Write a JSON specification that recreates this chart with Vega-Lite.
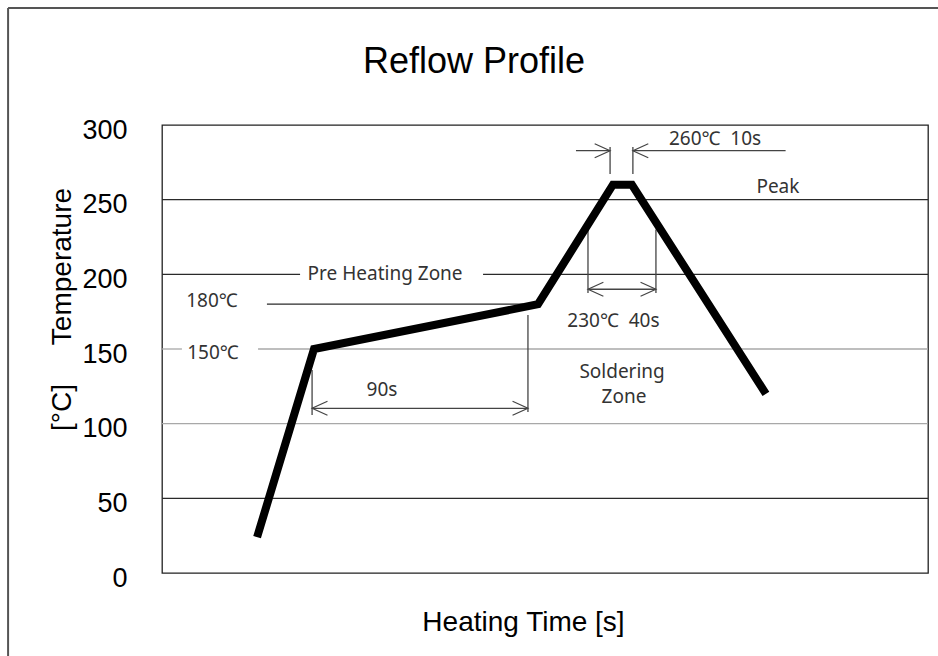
{
  "$schema": "https://vega.github.io/schema/vega-lite/v6.json",
  "width": 766,
  "height": 448,
  "autosize": "none",
  "padding": {"left": 162, "top": 125, "right": 10, "bottom": 83},
  "background": "white",
  "title": {
    "text": "Reflow Profile",
    "anchor": "middle",
    "frame": "group",
    "dx": -71,
    "offset": -102,
    "baseline": "alphabetic",
    "font": "Liberation Sans",
    "fontSize": 36,
    "fontWeight": "normal",
    "color": "black"
  },
  "config": {
    "view": {"stroke": "#222", "strokeWidth": 1.3},
    "font": "Liberation Sans"
  },
  "datasets": {
    "profile": [
      {"t": 39.6, "T": 24},
      {"t": 63.3, "T": 150},
      {"t": 156.6, "T": 180},
      {"t": 187.8, "T": 260},
      {"t": 195.7, "T": 260},
      {"t": 251.5, "T": 120}
    ],
    "segments": [
      {"t": 0, "t2": 319, "v": 250, "v2": 250, "k": "dark"},
      {"t": 0, "t2": 57.5, "v": 200, "v2": 200, "k": "dark"},
      {"t": 133.7, "t2": 319, "v": 200, "v2": 200, "k": "dark"},
      {"t": 0, "t2": 8.3, "v": 150, "v2": 150, "k": "gray"},
      {"t": 40, "t2": 319, "v": 150, "v2": 150, "k": "gray"},
      {"t": 0, "t2": 319, "v": 100, "v2": 100, "k": "gray"},
      {"t": 0, "t2": 319, "v": 50, "v2": 50, "k": "dark"},
      {"t": 43.7, "t2": 150.4, "v": 180, "v2": 180, "k": "dark"},
      {"t": 62.5, "t2": 62.5, "v": 136, "v2": 105.8, "k": "dim"},
      {"t": 152.4, "t2": 152.4, "v": 172.8, "v2": 107.8, "k": "dim"},
      {"t": 62.5, "t2": 152.4, "v": 110.3, "v2": 110.3, "k": "dim"},
      {"t": 186.6, "t2": 186.6, "v": 285.3, "v2": 267.2, "k": "dim"},
      {"t": 196.1, "t2": 196.1, "v": 285.3, "v2": 267.2, "k": "dim"},
      {"t": 172.4, "t2": 186.6, "v": 282.8, "v2": 282.8, "k": "dim"},
      {"t": 196.1, "t2": 259.7, "v": 282.8, "v2": 282.8, "k": "dim"},
      {"t": 177.4, "t2": 177.4, "v": 230, "v2": 187.5, "k": "dim"},
      {"t": 205.7, "t2": 205.7, "v": 230, "v2": 187.5, "k": "dim"},
      {"t": 177.4, "t2": 205.7, "v": 190, "v2": 190, "k": "dim"}
    ],
    "arrows": [
      {"t": 62.5, "v": 110.3, "dir": "left"},
      {"t": 152.4, "v": 110.3, "dir": "right"},
      {"t": 186.6, "v": 282.8, "dir": "right"},
      {"t": 196.1, "v": 282.8, "dir": "left"},
      {"t": 177.4, "v": 190, "dir": "left"},
      {"t": 205.7, "v": 190, "dir": "right"}
    ],
    "notes": [
      {"t": 92.9, "v": 200, "label": "Pre Heating Zone"},
      {"t": 20.8, "v": 182, "label": "180℃"},
      {"t": 21.2, "v": 147, "label": "150℃"},
      {"t": 91.6, "v": 122.5, "label": "90s"},
      {"t": 230.3, "v": 290.6, "label": "260℃\u00a0\u00a010s"},
      {"t": 188, "v": 168.7, "label": "230℃\u00a0\u00a040s"},
      {"t": 191.6, "v": 134.3, "label": "Soldering"},
      {"t": 192.4, "v": 117.9, "label": "Zone"},
      {"t": 256.5, "v": 258.5, "label": "Peak"}
    ]
  },
  "layer": [
    {
      "data": {"name": "segments"},
      "mark": {"type": "rule", "strokeWidth": 1.3},
      "encoding": {
        "x": {
          "field": "t", "type": "quantitative",
          "scale": {"domain": [0, 319], "nice": false, "zero": false},
          "axis": {
            "title": "Heating Time [s]",
            "labels": false, "ticks": false, "domain": false, "grid": false,
            "titleFont": "Liberation Sans", "titleFontSize": 28, "titleFontWeight": "normal",
            "titleColor": "black", "titleX": 361, "titleY": 57, "titleBaseline": "alphabetic",
            "titleAnchor": "middle", "titleAlign": "center"
          }
        },
        "x2": {"field": "t2"},
        "y": {
          "field": "v", "type": "quantitative",
          "scale": {"domain": [0, 300], "nice": false},
          "axis": {
            "title": "[°C]\u00a0\u00a0\u00a0\u00a0\u00a0Temperature",
            "values": [0, 50, 100, 150, 200, 250, 300],
            "grid": false, "ticks": false, "domain": false,
            "labelFont": "Liberation Sans", "labelFontSize": 27, "labelColor": "black",
            "labelPadding": 35, "labelOffset": 5,
            "titleFont": "Liberation Sans", "titleFontSize": 28, "titleFontWeight": "normal",
            "titleColor": "black", "titleX": -100, "titleY": 184, "titleBaseline": "middle",
            "titleAlign": "center", "titleAngle": -90
          }
        },
        "y2": {"field": "v2"},
        "color": {
          "field": "k", "type": "nominal",
          "scale": {"domain": ["dark", "gray", "dim"], "range": ["#2a2a2a", "#a8a8a8", "#444444"]},
          "legend": null
        }
      }
    },
    {
      "data": {"name": "profile"},
      "mark": {"type": "line", "color": "black", "strokeWidth": 8, "strokeJoin": "miter", "strokeCap": "butt"},
      "encoding": {
        "x": {"field": "t", "type": "quantitative"},
        "y": {"field": "T", "type": "quantitative"}
      }
    },
    {
      "data": {"name": "arrows"},
      "mark": {"type": "point", "filled": false, "size": 196, "strokeWidth": 1.2, "color": "#444444", "opacity": 1},
      "encoding": {
        "x": {"field": "t", "type": "quantitative"},
        "y": {"field": "v", "type": "quantitative"},
        "shape": {
          "field": "dir", "type": "nominal",
          "scale": {"domain": ["left", "right"], "range": ["M2.2,-1L0,0L2.2,1", "M-2.2,-1L0,0L-2.2,1"]},
          "legend": null
        }
      }
    },
    {
      "data": {"name": "notes"},
      "mark": {"type": "text", "font": "Noto Sans, Noto Sans CJK JP", "fontSize": 19, "color": "#333333", "align": "center", "baseline": "middle"},
      "encoding": {
        "x": {"field": "t", "type": "quantitative"},
        "y": {"field": "v", "type": "quantitative"},
        "text": {"field": "label"}
      }
    },
    {
      "data": {"values": [{}]},
      "mark": {"type": "rule", "color": "#555555", "strokeWidth": 2},
      "encoding": {
        "x": {"datum": -64.1, "type": "quantitative"},
        "y": {"datum": 378.4, "type": "quantitative"},
        "y2": {"datum": -58.3}
      }
    },
    {
      "data": {"values": [{}]},
      "mark": {"type": "rule", "color": "#555555", "strokeWidth": 2},
      "encoding": {
        "x": {"datum": -64.1, "type": "quantitative"},
        "x2": {"datum": 324},
        "y": {"datum": 378.4, "type": "quantitative"}
      }
    }
  ]
}
